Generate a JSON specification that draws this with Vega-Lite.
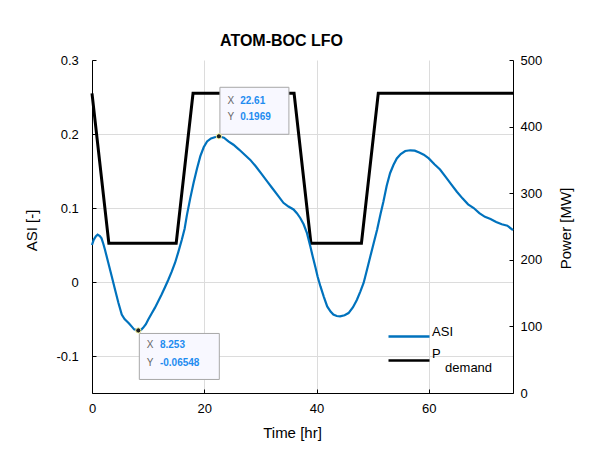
{
  "$schema": "https://vega.github.io/schema/vega-lite/v6.json",
  "width": 421,
  "height": 333,
  "autosize": {"type": "none"},
  "padding": {"left": 92, "top": 60, "right": 79, "bottom": 56},
  "title": {"text": "ATOM-BOC LFO", "fontSize": 16, "fontWeight": "bold", "font": "Liberation Sans", "color": "#000000", "anchor": "middle", "frame": "group", "dx": -21, "dy": 16, "baseline": "alphabetic", "offset": 8},
  "datasets": {
    "asi": [
      {"t": 0.0, "asi": 0.050}, {"t": 0.3, "asi": 0.057}, {"t": 0.7, "asi": 0.062}, {"t": 1.0, "asi": 0.064},
      {"t": 1.4, "asi": 0.062}, {"t": 1.7, "asi": 0.059}, {"t": 2.0, "asi": 0.052}, {"t": 2.3, "asi": 0.044},
      {"t": 2.9, "asi": 0.026}, {"t": 3.5, "asi": 0.008}, {"t": 4.1, "asi": -0.010}, {"t": 4.7, "asi": -0.028},
      {"t": 5.3, "asi": -0.044}, {"t": 5.8, "asi": -0.050}, {"t": 6.2, "asi": -0.053}, {"t": 6.6, "asi": -0.056},
      {"t": 7.05, "asi": -0.060}, {"t": 7.5, "asi": -0.064}, {"t": 8.0, "asi": -0.065}, {"t": 8.253, "asi": -0.06548},
      {"t": 8.7, "asi": -0.065}, {"t": 9.1, "asi": -0.062}, {"t": 9.6, "asi": -0.057}, {"t": 10.0, "asi": -0.051},
      {"t": 10.6, "asi": -0.043}, {"t": 11.2, "asi": -0.035}, {"t": 11.8, "asi": -0.026}, {"t": 12.4, "asi": -0.017},
      {"t": 13.0, "asi": -0.007}, {"t": 13.6, "asi": 0.003}, {"t": 14.2, "asi": 0.014}, {"t": 14.8, "asi": 0.026},
      {"t": 15.4, "asi": 0.041}, {"t": 16.0, "asi": 0.057}, {"t": 16.5, "asi": 0.072}, {"t": 16.9, "asi": 0.090},
      {"t": 17.5, "asi": 0.113}, {"t": 18.1, "asi": 0.134}, {"t": 18.7, "asi": 0.153}, {"t": 19.3, "asi": 0.170},
      {"t": 19.9, "asi": 0.182}, {"t": 20.5, "asi": 0.190}, {"t": 21.2, "asi": 0.194}, {"t": 22.0, "asi": 0.196},
      {"t": 22.61, "asi": 0.1969}, {"t": 23.5, "asi": 0.195}, {"t": 24.3, "asi": 0.190}, {"t": 25.2, "asi": 0.1855},
      {"t": 26.2, "asi": 0.179}, {"t": 27.2, "asi": 0.172}, {"t": 28.2, "asi": 0.165}, {"t": 29.2, "asi": 0.156},
      {"t": 30.2, "asi": 0.146}, {"t": 31.2, "asi": 0.136}, {"t": 32.2, "asi": 0.126}, {"t": 33.2, "asi": 0.116},
      {"t": 34.1, "asi": 0.107}, {"t": 35.0, "asi": 0.102}, {"t": 35.9, "asi": 0.098}, {"t": 36.5, "asi": 0.093},
      {"t": 37.1, "asi": 0.0865}, {"t": 37.7, "asi": 0.078}, {"t": 38.3, "asi": 0.066}, {"t": 38.9, "asi": 0.048},
      {"t": 39.3, "asi": 0.035}, {"t": 39.8, "asi": 0.020}, {"t": 40.2, "asi": 0.007}, {"t": 40.7, "asi": -0.006},
      {"t": 41.3, "asi": -0.020}, {"t": 41.9, "asi": -0.033}, {"t": 42.5, "asi": -0.040}, {"t": 43.0, "asi": -0.044},
      {"t": 43.6, "asi": -0.046}, {"t": 44.2, "asi": -0.0465}, {"t": 45.0, "asi": -0.045}, {"t": 45.7, "asi": -0.042},
      {"t": 46.5, "asi": -0.034}, {"t": 47.2, "asi": -0.024}, {"t": 47.8, "asi": -0.013}, {"t": 48.4, "asi": -0.001},
      {"t": 49.0, "asi": 0.017}, {"t": 49.6, "asi": 0.035}, {"t": 50.2, "asi": 0.053}, {"t": 50.8, "asi": 0.071},
      {"t": 51.4, "asi": 0.092}, {"t": 51.9, "asi": 0.108}, {"t": 52.5, "asi": 0.130}, {"t": 53.1, "asi": 0.147},
      {"t": 53.7, "asi": 0.158}, {"t": 54.3, "asi": 0.167}, {"t": 55.0, "asi": 0.173}, {"t": 55.8, "asi": 0.177},
      {"t": 56.7, "asi": 0.178}, {"t": 57.5, "asi": 0.1775}, {"t": 58.3, "asi": 0.175}, {"t": 59.1, "asi": 0.172},
      {"t": 60.0, "asi": 0.167}, {"t": 61.0, "asi": 0.159}, {"t": 62.0, "asi": 0.152}, {"t": 63.0, "asi": 0.142},
      {"t": 64.0, "asi": 0.132}, {"t": 65.0, "asi": 0.122}, {"t": 66.0, "asi": 0.113}, {"t": 67.0, "asi": 0.105},
      {"t": 68.0, "asi": 0.100}, {"t": 69.0, "asi": 0.093}, {"t": 70.0, "asi": 0.088}, {"t": 71.0, "asi": 0.085},
      {"t": 72.0, "asi": 0.081}, {"t": 73.0, "asi": 0.078}, {"t": 74.0, "asi": 0.076}, {"t": 75.0, "asi": 0.070}
    ],
    "power": [
      {"t": 0, "p": 450}, {"t": 3, "p": 225}, {"t": 15, "p": 225}, {"t": 18, "p": 450},
      {"t": 36, "p": 450}, {"t": 39, "p": 225}, {"t": 48, "p": 225}, {"t": 51, "p": 450}, {"t": 75, "p": 450}
    ],
    "tip1": [{"t": 22.61, "asi": 0.1969}],
    "tip2": [{"t": 8.253, "asi": -0.06548}],
    "tips": [{"t": 22.61, "asi": 0.1969}, {"t": 8.253, "asi": -0.06548}]
  },
  "layer": [
    {
      "data": {"name": "power"},
      "mark": {"type": "line", "strokeWidth": 3},
      "encoding": {
        "x": {"field": "t", "type": "quantitative", "title": "Time [hr]",
          "scale": {"domain": [0, 75], "nice": false, "zero": false},
          "axis": {"values": [0, 20, 40, 60], "grid": true, "tickSize": -4, "labelPadding": 13.3, "titleX": 200, "titleY": 44.7, "titleBaseline": "alphabetic"}},
        "y": {"field": "p", "type": "quantitative", "title": "Power [MW]",
          "scale": {"domain": [0, 500], "nice": false, "zero": false},
          "axis": {"orient": "right", "values": [0, 100, 200, 300, 400, 500], "grid": false, "tickSize": -4, "labelPadding": 11, "titleAngle": -90, "titleX": 57, "titleY": 168, "titleBaseline": "alphabetic", "titleAlign": "center"}},
        "color": {"datum": "P_demand", "type": "nominal",
          "scale": {"domain": ["ASI", "P_demand"], "range": ["#0072BD", "#000000"]},
          "legend": {"orient": "none", "legendX": 310.5, "legendY": 270, "title": null, "padding": 0,
            "symbolType": "M-20.5,0H20.5", "symbolSize": 4, "symbolStrokeWidth": 2.5,
            "labelFontSize": 13, "labelFont": "Liberation Sans", "labelColor": "#000000", "labelOffset": 16.6, "rowPadding": 5,
            "labelExpr": "datum.label == 'P_demand' ? ['P', '\\u200b\\u2002\\u2002demand'] : datum.label",
            "encode": {"labels": {"update": {"lineHeight": {"value": 14}, "dy": {"signal": "datum.value == 'P_demand' ? -7 : -4.5"}}}}}}
      }
    },
    {
      "layer": [
        {
          "data": {"name": "asi"},
          "mark": {"type": "line", "strokeWidth": 2.2},
          "encoding": {
            "x": {"field": "t", "type": "quantitative", "title": "Time [hr]"},
            "y": {"field": "asi", "type": "quantitative", "title": "ASI [-]",
              "scale": {"domain": [-0.15, 0.3], "nice": false, "zero": false},
              "axis": {"orient": "left", "values": [-0.1, 0, 0.1, 0.2, 0.3], "format": "~g", "grid": true,
                "gridColor": {"condition": {"test": "datum.value > 0.29", "value": "transparent"}, "value": "#dcdcdc"},
                "tickSize": -4, "labelPadding": 17.7, "titleX": -55.3, "titleY": 170, "titleBaseline": "alphabetic"}},
            "color": {"datum": "ASI", "type": "nominal"}
          }
        },
        {
          "data": {"name": "tip1"},
          "mark": {"type": "point", "shape": "M1,-49H70V-2H1Z", "size": 4, "filled": true, "fill": "#f8f8ff", "stroke": "#a8a8a8", "strokeWidth": 1, "opacity": 1},
          "encoding": {"x": {"field": "t", "type": "quantitative"}, "y": {"field": "asi", "type": "quantitative"}}
        },
        {
          "data": {"name": "tip2"},
          "mark": {"type": "point", "shape": "M1,3H81V49H1Z", "size": 4, "filled": true, "fill": "#f8f8ff", "stroke": "#a8a8a8", "strokeWidth": 1, "opacity": 1},
          "encoding": {"x": {"field": "t", "type": "quantitative"}, "y": {"field": "asi", "type": "quantitative"}}
        },
        {
          "data": {"name": "tips"},
          "mark": {"type": "point", "shape": "circle", "size": 28, "filled": true, "fill": "#202020", "stroke": "#ffffa8", "strokeWidth": 1, "opacity": 1},
          "encoding": {"x": {"field": "t", "type": "quantitative"}, "y": {"field": "asi", "type": "quantitative"}}
        },
        {
          "data": {"name": "tip1"},
          "mark": {"type": "text", "align": "left", "baseline": "alphabetic", "dx": 8.6, "dy": -32.7, "fontSize": 10, "font": "Liberation Sans", "color": "#666666"},
          "encoding": {"x": {"field": "t", "type": "quantitative"}, "y": {"field": "asi", "type": "quantitative"}, "text": {"value": "X"}}
        },
        {
          "data": {"name": "tip1"},
          "mark": {"type": "text", "align": "left", "baseline": "alphabetic", "dx": 8.6, "dy": -16.7, "fontSize": 10, "font": "Liberation Sans", "color": "#666666"},
          "encoding": {"x": {"field": "t", "type": "quantitative"}, "y": {"field": "asi", "type": "quantitative"}, "text": {"value": "Y"}}
        },
        {
          "data": {"name": "tip1"},
          "mark": {"type": "text", "align": "left", "baseline": "alphabetic", "dx": 21.3, "dy": -32.7, "fontSize": 10, "fontWeight": "bold", "font": "Liberation Sans", "color": "#1e8cf0"},
          "encoding": {"x": {"field": "t", "type": "quantitative"}, "y": {"field": "asi", "type": "quantitative"}, "text": {"field": "t", "type": "quantitative", "format": ".4r"}}
        },
        {
          "data": {"name": "tip1"},
          "mark": {"type": "text", "align": "left", "baseline": "alphabetic", "dx": 21.3, "dy": -16.7, "fontSize": 10, "fontWeight": "bold", "font": "Liberation Sans", "color": "#1e8cf0"},
          "encoding": {"x": {"field": "t", "type": "quantitative"}, "y": {"field": "asi", "type": "quantitative"}, "text": {"field": "asi", "type": "quantitative", "format": ".4r"}}
        },
        {
          "data": {"name": "tip2"},
          "mark": {"type": "text", "align": "left", "baseline": "alphabetic", "dx": 8.3, "dy": 17.6, "fontSize": 10, "font": "Liberation Sans", "color": "#666666"},
          "encoding": {"x": {"field": "t", "type": "quantitative"}, "y": {"field": "asi", "type": "quantitative"}, "text": {"value": "X"}}
        },
        {
          "data": {"name": "tip2"},
          "mark": {"type": "text", "align": "left", "baseline": "alphabetic", "dx": 8.3, "dy": 35.3, "fontSize": 10, "font": "Liberation Sans", "color": "#666666"},
          "encoding": {"x": {"field": "t", "type": "quantitative"}, "y": {"field": "asi", "type": "quantitative"}, "text": {"value": "Y"}}
        },
        {
          "data": {"name": "tip2"},
          "mark": {"type": "text", "align": "left", "baseline": "alphabetic", "dx": 21.6, "dy": 17.6, "fontSize": 10, "fontWeight": "bold", "font": "Liberation Sans", "color": "#1e8cf0"},
          "encoding": {"x": {"field": "t", "type": "quantitative"}, "y": {"field": "asi", "type": "quantitative"}, "text": {"field": "t", "type": "quantitative", "format": ".4r"}}
        },
        {
          "data": {"name": "tip2"},
          "mark": {"type": "text", "align": "left", "baseline": "alphabetic", "dx": 21.6, "dy": 35.3, "fontSize": 10, "fontWeight": "bold", "font": "Liberation Sans", "color": "#1e8cf0"},
          "encoding": {"x": {"field": "t", "type": "quantitative"}, "y": {"field": "asi", "type": "quantitative"}, "text": {"field": "asi", "type": "quantitative", "format": ".4r"}}
        }
      ]
    }
  ],
  "resolve": {"scale": {"y": "independent"}},
  "config": {
    "font": "Liberation Sans",
    "view": {"stroke": null},
    "locale": {"number": {"decimal": ".", "thousands": ",", "grouping": [3], "currency": ["$", ""], "minus": "-"}},
    "axis": {"domainColor": "#000000", "tickColor": "#000000", "labelColor": "#000000", "titleColor": "#000000",
      "labelFontSize": 13, "titleFontSize": 15, "titleFontWeight": "normal", "labelFont": "Liberation Sans", "titleFont": "Liberation Sans",
      "gridColor": "#dcdcdc", "gridWidth": 1, "domainWidth": 1, "tickWidth": 1, "labelFlush": false, "labelOverlap": false, "labelBound": false}
  }
}
